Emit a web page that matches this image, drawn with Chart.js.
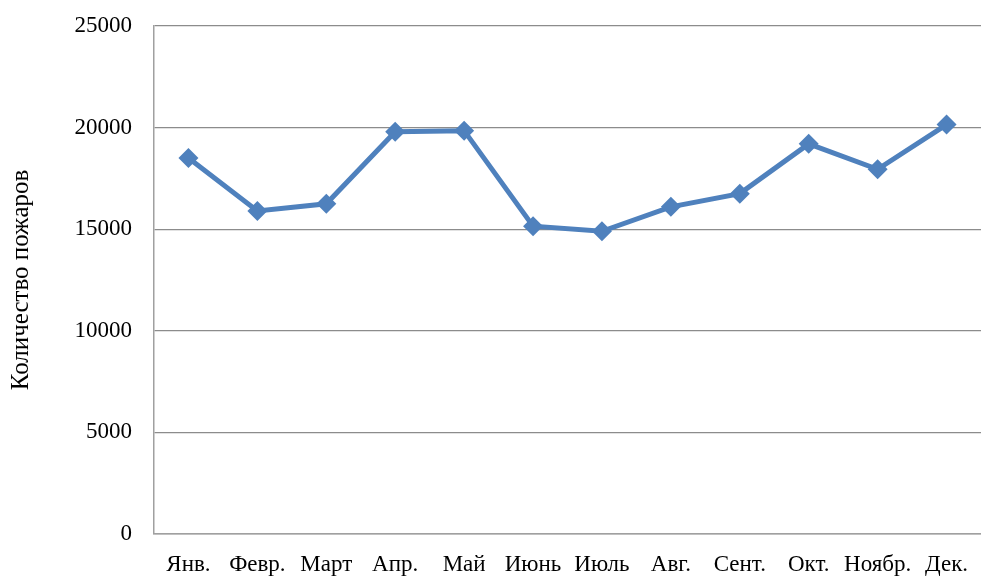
<!DOCTYPE html>
<html>
<head>
<meta charset="utf-8">
<script src="https://cdn.jsdelivr.net/npm/chart.js@4/dist/chart.umd.min.js"></script>
<style>
  html, body { margin: 0; padding: 0; background: #fff; }
  #wrap { width: 981px; height: 577px; position: relative; }
</style>
</head>
<body>
<div id="wrap"><canvas id="myChart"></canvas></div>
<script>
// months on the x axis
const months = ["Янв.", "Февр.", "Март", "Апр.", "Май", "Июнь", "Июль", "Авг.", "Сент.", "Окт.", "Ноябр.", "Дек."];
// number of fires per month
const fires = [18500, 15900, 16250, 19800, 19850, 15150, 14900, 16100, 16750, 19200, 17950, 20150];
// y axis range
const yMin = 0;
const yMax = 25000;
const yStep = 5000;

const serif = "'Liberation Serif', 'Times New Roman', serif";
const ctx = document.getElementById("myChart");

new Chart(ctx, {
  type: "line",
  data: {
    labels: months,
    datasets: [
      {
        label: "Количество пожаров",
        data: fires,
        borderColor: "#4F81BD",
        backgroundColor: "#4F81BD",
        borderWidth: 5,
        tension: 0,
        pointStyle: "rectRot",
        pointRadius: 10,
        pointHoverRadius: 10,
        pointBorderWidth: 0,
      },
    ],
  },
  options: {
    responsive: true,
    maintainAspectRatio: false,
    animation: false,
    layout: { autoPadding: false, padding: { left: 6, right: 0, top: 0, bottom: 0 } },
    plugins: {
      legend: { display: false },
      tooltip: { enabled: false },
    },
    scales: {
      x: {
        offset: true,
        grid: { display: false, drawTicks: false },
        border: { display: true, color: "#A0A0A0", width: 1.5 },
        ticks: {
          color: "#000",
          padding: 17,
          maxRotation: 0,
          autoSkip: false,
          font: { family: serif, size: 23 },
        },
        afterFit: function (scale) {
          scale.height = 43; // space under the plot for month labels
          scale.paddingLeft = 0;
          scale.paddingRight = 0; // let the plot reach the right edge
        },
      },
      y: {
        min: yMin,
        max: yMax,
        grid: { color: "#8C8C8C", lineWidth: 1.2, drawTicks: false },
        border: { display: true, color: "#A0A0A0", width: 1.5 },
        ticks: {
          stepSize: yStep,
          color: "#000",
          padding: 22,
          font: { family: serif, size: 23 },
          callback: function (value) {
            return String(value); // no thousands separator
          },
        },
        title: {
          display: true,
          text: "Количество пожаров",
          color: "#000",
          padding: { top: 0, bottom: 0 },
          font: { family: serif, size: 25 },
        },
        afterFit: function (scale) {
          scale.width = 148; // plot starts at x≈154
          scale.paddingTop = 26; // plot top at y≈26
          scale.paddingBottom = 0;
        },
      },
    },
  },
});
</script>
</body>
</html>
